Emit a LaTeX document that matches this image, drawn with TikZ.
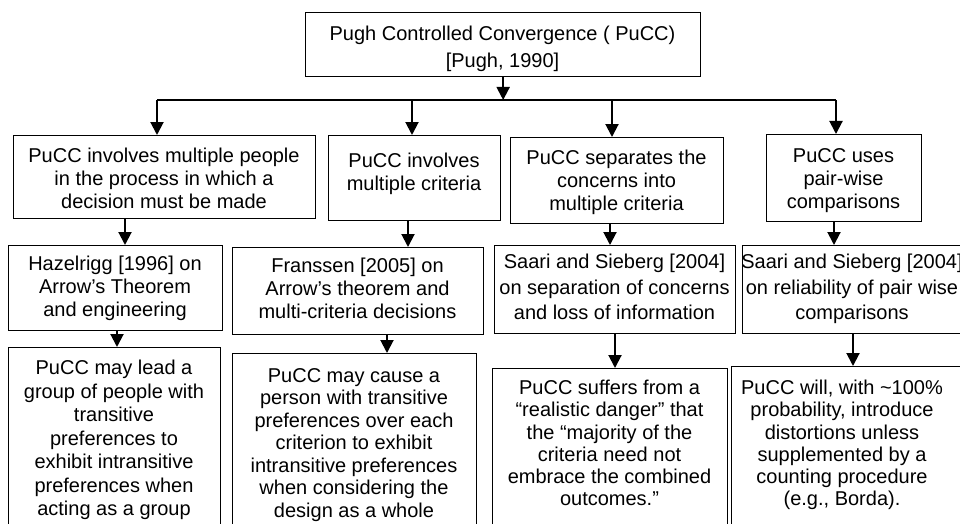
\documentclass[tikz,border=0pt]{standalone}
\usepackage{fontspec}
\setmainfont{Liberation Sans}
\usetikzlibrary{arrows.meta}
\begin{document}
\begin{tikzpicture}[x=1pt,y=-1pt,
  box/.style={draw, line width=1.3pt, rectangle, inner sep=0pt, anchor=north west},
  txt/.style={anchor=north, align=center, inner sep=0pt, font=\fontsize{20}{23}\selectfont},
  arr/.style={line width=2pt, -{Triangle[width=13pt,length=13pt]}},
  bus/.style={line width=1.5pt}]
\useasboundingbox (0,0) rectangle (960,524);
\clip (0,0) rectangle (960,524);
% boxes
\node[box, minimum width=395pt, minimum height=64pt] (top) at (305,12) {};
\node[box, minimum width=302pt, minimum height=83pt] (b1) at (13,135) {};
\node[box, minimum width=172pt, minimum height=85pt] (b2) at (328,135) {};
\node[box, minimum width=213pt, minimum height=86pt] (b3) at (510,137) {};
\node[box, minimum width=155pt, minimum height=87pt] (b4) at (766,134) {};
\node[box, minimum width=214pt, minimum height=85pt] (h) at (8,245) {};
\node[box, minimum width=251pt, minimum height=87pt] (f) at (232,247) {};
\node[box, minimum width=241pt, minimum height=88pt] (s1) at (494,245) {};
\node[box, minimum width=222pt, minimum height=88pt] (s2) at (742,245) {};
\node[box, minimum width=212pt, minimum height=190pt] (a) at (8,347) {};
\node[box, minimum width=244pt, minimum height=190pt] (bb) at (232,353) {};
\node[box, minimum width=235pt, minimum height=180pt] (c) at (492,368) {};
\node[box, minimum width=235pt, minimum height=180pt] (d) at (731,366) {};
% texts
\node[txt, font=\fontsize{20}{27}\selectfont] (topt) at (502.5,26) {Pugh Controlled Convergence ( PuCC)\\{[}Pugh, 1990]};
\node[txt] (b1t) at (164,148) {PuCC involves multiple people\\in the process in which a\\decision must be made};
\node[txt] (b2t) at (414,153) {PuCC involves\\multiple criteria};
\node[txt] (b3t) at (616.5,150) {PuCC separates the\\concerns into\\multiple criteria};
\node[txt] (b4t) at (843.5,148) {PuCC uses\\pair-wise\\comparisons};
\node[txt] (ht) at (115,256) {Hazelrigg [1996] on\\Arrow’s Theorem\\and engineering};
\node[txt] (ft) at (357.5,258) {Franssen [2005] on\\Arrow’s theorem and\\multi-criteria decisions};
\node[txt, font=\fontsize{20}{25.5}\selectfont] (s1t) at (614.5,254) {Saari and Sieberg [2004]\\on separation of concerns\\and loss of information};
\node[txt, font=\fontsize{20}{25.5}\selectfont] (s2t) at (852,254) {Saari and Sieberg [2004]\\on reliability of pair wise\\comparisons};
\node[txt, font=\fontsize{20}{23.5}\selectfont] (at) at (114,360) {PuCC may lead a\\group of people with\\transitive\\preferences to\\exhibit intransitive\\preferences when\\acting as a group};
\node[txt, font=\fontsize{20}{22.5}\selectfont] (bbt) at (354,368) {PuCC may cause a\\person with transitive\\preferences over each\\criterion to exhibit\\intransitive preferences\\when considering the\\design as a whole};
\node[txt, font=\fontsize{20}{22.2}\selectfont] (ct) at (609.5,380) {PuCC suffers from a\\“realistic danger” that\\the “majority of the\\criteria need not\\embrace the combined\\outcomes.”};
\node[txt, font=\fontsize{20}{22.2}\selectfont] (dt) at (842,380) {PuCC will, with \textasciitilde100\%\\probability, introduce\\distortions unless\\supplemented by a\\counting procedure\\(e.g., Borda).};
% connector columns
\coordinate (bl) at (157,100);
\coordinate (br) at (836,100);
\coordinate (k2) at (412,100);
\coordinate (k3) at (612,100);
\coordinate (x1) at (125,0);
\coordinate (x2) at (408,0);
\coordinate (x3) at (610,0);
\coordinate (x4) at (834,0);
\coordinate (y1) at (117,0);
\coordinate (y2) at (387,0);
\coordinate (y3) at (615,0);
\coordinate (y4) at (853,0);
% connectors
\draw[arr] (top.south) -- (top.south |- bl);
\draw[bus] (bl) -- (br);
\draw[arr] (bl) -- (bl |- b1.north);
\draw[arr] (k2) -- (k2 |- b2.north);
\draw[arr] (k3) -- (k3 |- b3.north);
\draw[arr] (br) -- (br |- b4.north);
\draw[arr] (b1.south -| x1) -- (h.north -| x1);
\draw[arr] (b2.south -| x2) -- (f.north -| x2);
\draw[arr] (b3.south -| x3) -- (s1.north -| x3);
\draw[arr] (b4.south -| x4) -- (s2.north -| x4);
\draw[arr] (h.south -| y1) -- (a.north -| y1);
\draw[arr] (f.south -| y2) -- (bb.north -| y2);
\draw[arr] (s1.south -| y3) -- (c.north -| y3);
\draw[arr] (s2.south -| y4) -- (d.north -| y4);
\end{tikzpicture}
\end{document}
